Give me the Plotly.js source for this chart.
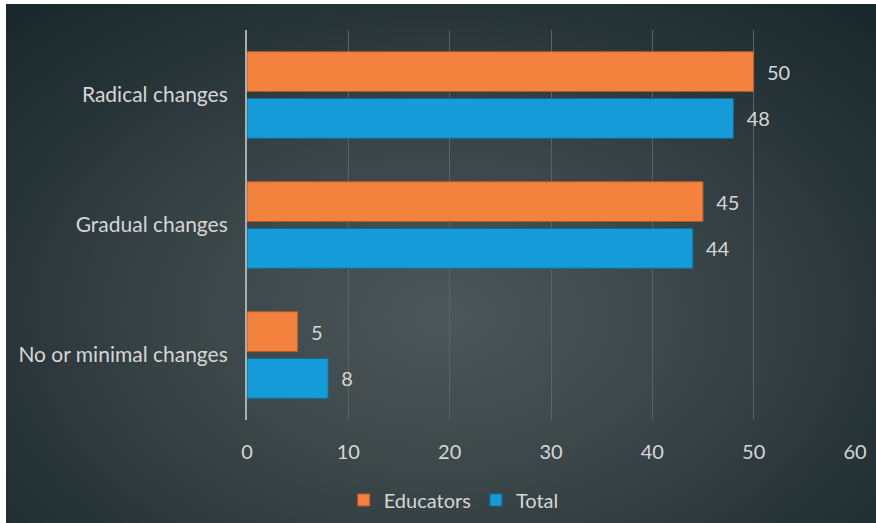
<!DOCTYPE html>
<html>
<head>
<meta charset="utf-8">
<script src="https://cdn.plot.ly/plotly-3.0.1.min.js"></script>
<style>
html,body{margin:0;padding:0;background:#ffffff;width:876px;height:523px;overflow:hidden;}
#wrap{position:absolute;left:6px;top:4px;width:870px;height:519px;
background:radial-gradient(ellipse 75% 85% at 50% 60%, #4d5759 0%, #3a4548 40%, #243135 75%, #17262a 100%);}
#chart{width:870px;height:519px;}
</style>
</head>
<body>
<div id="wrap"><div id="chart"></div></div>
<script>
var categories = ["No or minimal changes", "Gradual changes", "Radical changes"];
var educators = [5, 45, 50];
var total = [8, 44, 48];
var xTicks = [0, 10, 20, 30, 40, 50, 60];

var font = "Lato, 'Open Sans', sans-serif";
var txtColor = "#d6d6d6";

var traces = [
  {
    type: "bar", orientation: "h", name: "Total",
    y: categories, x: total,
    marker: {color: "#159bd8", line: {color: "#0d6f9e", width: 1}},
    text: total.map(String), texttemplate: "\u00a0\u00a0%{x}",
    textposition: "outside", cliponaxis: false,
    textfont: {family: font, size: 20, color: txtColor},
    hoverinfo: "none"
  },
  {
    type: "bar", orientation: "h", name: "Educators",
    y: categories, x: educators,
    marker: {color: "#f4823f", line: {color: "#b85a25", width: 1}},
    text: educators.map(String), texttemplate: "\u00a0\u00a0%{x}",
    textposition: "outside", cliponaxis: false,
    textfont: {family: font, size: 20, color: txtColor},
    hoverinfo: "none"
  }
];

var layout = {
  width: 870, height: 519,
  paper_bgcolor: "rgba(0,0,0,0)",
  plot_bgcolor: "rgba(0,0,0,0)",
  margin: {l: 241, r: 21, t: 26, b: 103, autoexpand: false},
  barmode: "group",
  bargap: 0.28,
  bargroupgap: 0.15,
  font: {family: font, color: txtColor, size: 20},
  xaxis: {
    range: [0, 60], tickvals: xTicks, ticktext: xTicks.map(String),
    showgrid: true, gridcolor: "#5a6366", gridwidth: 1,
    zeroline: false, showline: false, ticks: "",
    tickfont: {family: font, size: 20, color: txtColor},
    ticklabelstandoff: 18, fixedrange: true, automargin: false
  },
  yaxis: {
    type: "category", categoryorder: "array", categoryarray: categories,
    showgrid: false, zeroline: false, showline: true,
    linecolor: "#a9adae", linewidth: 2, ticks: "",
    tickfont: {family: font, size: 21, color: txtColor},
    ticklabelstandoff: 13, fixedrange: true, automargin: false
  },
  showlegend: true,
  legend: {
    orientation: "h", x: 0.34, xanchor: "center", y: -0.205, yanchor: "middle",
    traceorder: "reversed",
    font: {family: font, size: 20, color: txtColor},
    bgcolor: "rgba(0,0,0,0)", itemwidth: 30
  }
};

Plotly.newPlot("chart", traces, layout, {displayModeBar: false, staticPlot: true});
</script>
</body>
</html>
